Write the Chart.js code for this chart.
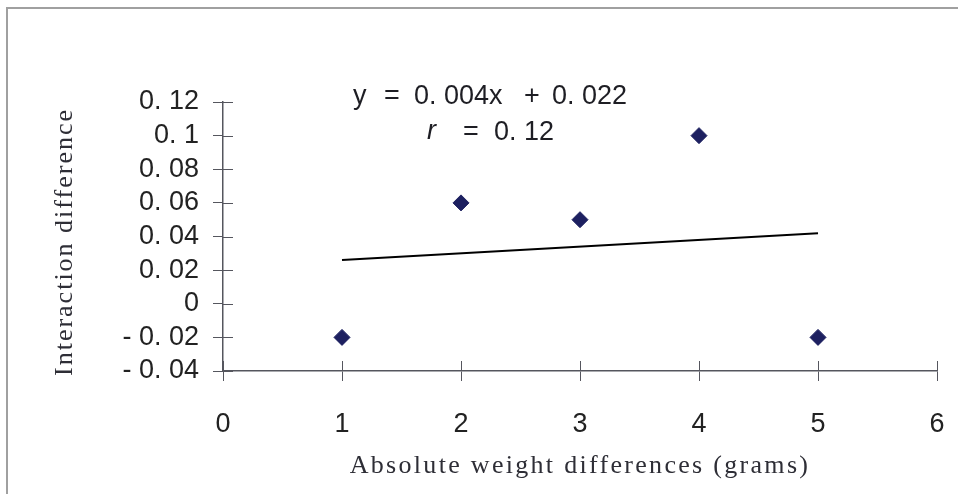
<!DOCTYPE html>
<html lang="en">
<head>
<meta charset="UTF-8">
<title>Interaction difference vs weight difference</title>
<script src="https://cdn.jsdelivr.net/npm/chart.js"></script>
<style>
  html, body { margin: 0; padding: 0; background: #fff; }
</style>
</head>
<body>
<canvas id="myChart" width="958" height="494"></canvas>
<script>
  // measured pairs
  const weightDiffs = [1, 2, 3, 4, 5];
  const interactionDiffs = [-0.02, 0.06, 0.05, 0.1, -0.02];

  // tick labels as printed on the axes
  const xTickLabels = ['0', '1', '2', '3', '4', '5', '6'];
  const yTickLabels = ['- 0. 04', '- 0. 02', '0', '0. 02', '0. 04', '0. 06', '0. 08', '0. 1', '0. 12'];

  // fitted line y = 0.004x + 0.022 over the data range
  const trendSlope = 0.004;
  const trendIntercept = 0.022;
  const trendX = [1, 5];

  const axisColor = '#55565e';
  const sans = "'Liberation Sans', Arial, sans-serif";
  const serif = "'Liberation Serif', 'Times New Roman', serif";

  const trendPoints = trendX.map(x => ({ x: x, y: trendSlope * x + trendIntercept }));
  const scatterPoints = weightDiffs.map((x, i) => ({ x: x, y: interactionDiffs[i] }));

  // frame, ticks that cross the axis lines, titles and the equation text
  const decor = {
    id: 'decor',
    beforeDraw(chart) {
      const ctx = chart.ctx;
      ctx.save();
      ctx.fillStyle = '#fff';
      ctx.fillRect(0, 0, chart.width, chart.height);
      ctx.strokeStyle = '#a0a0a0';
      ctx.lineWidth = 2;
      ctx.beginPath();
      ctx.moveTo(7, chart.height);
      ctx.lineTo(7, 8);
      ctx.lineTo(chart.width, 8);
      ctx.stroke();
      ctx.restore();
    },
    afterDraw(chart) {
      const ctx = chart.ctx;
      const xs = chart.scales.x, ys = chart.scales.y;
      const area = chart.chartArea;
      ctx.save();
      ctx.strokeStyle = axisColor;
      ctx.lineWidth = 1;
      ctx.beginPath();
      xs.ticks.forEach(t => {
        const px = Math.round(xs.getPixelForValue(t.value)) + 0.5;
        ctx.moveTo(px, area.bottom);
        ctx.lineTo(px, area.bottom - 10);
      });
      ys.ticks.forEach(t => {
        const py = Math.round(ys.getPixelForValue(t.value)) + 0.5;
        ctx.moveTo(area.left, py);
        ctx.lineTo(area.left + 10, py);
      });
      ctx.stroke();

      // axis titles
      ctx.fillStyle = '#2e2e36';
      ctx.font = '26px ' + serif;
      ctx.textAlign = 'center';
      ctx.textBaseline = 'middle';
      ctx.letterSpacing = '2.3px';
      ctx.fillText('Absolute weight differences (grams)', 580, 466);
      ctx.letterSpacing = '2px';
      ctx.save();
      ctx.translate(65, 242);
      ctx.rotate(-Math.PI / 2);
      ctx.fillText('Interaction difference', 0, 0);
      ctx.restore();
      ctx.letterSpacing = '0px';

      // regression equation
      ctx.fillStyle = '#1e1e24';
      ctx.textAlign = 'left';
      ctx.font = '27px ' + sans;
      ctx.fillText('y', 353, 97);
      ctx.fillText('=', 384, 97);
      ctx.fillText('0. 004x', 414, 97);
      ctx.fillText('+', 524, 97);
      ctx.fillText('0. 022', 552, 97);
      ctx.font = 'italic 27px ' + sans;
      ctx.fillText('r', 427, 131);
      ctx.font = '27px ' + sans;
      ctx.fillText('=', 463, 133);
      ctx.fillText('0. 12', 494, 133);
      ctx.restore();
    }
  };

  const ctx = document.getElementById('myChart').getContext('2d');
  new Chart(ctx, {
    type: 'scatter',
    data: {
      datasets: [
        {
          label: 'Interaction difference',
          data: scatterPoints,
          pointStyle: 'rectRot',
          pointRadius: 8,
          pointHoverRadius: 8,
          backgroundColor: '#1d2060',
          borderColor: '#1d2060',
          borderWidth: 1
        },
        {
          label: 'Trend',
          type: 'line',
          data: trendPoints,
          borderColor: '#000',
          borderWidth: 2,
          pointRadius: 0,
          fill: false
        }
      ]
    },
    options: {
      responsive: false,
      animation: false,
      layout: { padding: { top: 102, right: 21, left: 0, bottom: 0 } },
      plugins: {
        legend: { display: false },
        tooltip: { enabled: false }
      },
      scales: {
        x: {
          type: 'linear',
          min: 0,
          max: 6,
          afterFit: s => {
            s.height = 123;
            s.paddingLeft = 0;
            s.paddingRight = 0;
          },
          ticks: {
            stepSize: 1,
            autoSkip: false,
            maxRotation: 0,
            padding: 27,
            color: '#222',
            font: { family: sans, size: 27 },
            callback: (v, i) => xTickLabels[i]
          },
          grid: { drawOnChartArea: false, drawTicks: true, tickLength: 10, color: axisColor },
          border: { display: true, color: axisColor, width: 1.5 }
        },
        y: {
          min: -0.04,
          max: 0.12,
          afterFit: s => {
            s.width = 223;
            s.paddingTop = 0;
            s.paddingBottom = 0;
          },
          ticks: {
            stepSize: 0.02,
            autoSkip: false,
            padding: 14,
            color: '#222',
            font: { family: sans, size: 27 },
            callback: (v, i) => yTickLabels[i]
          },
          grid: { drawOnChartArea: false, drawTicks: true, tickLength: 10, color: axisColor },
          border: { display: true, color: axisColor, width: 1.5 }
        }
      }
    },
    plugins: [decor]
  });
</script>
</body>
</html>
